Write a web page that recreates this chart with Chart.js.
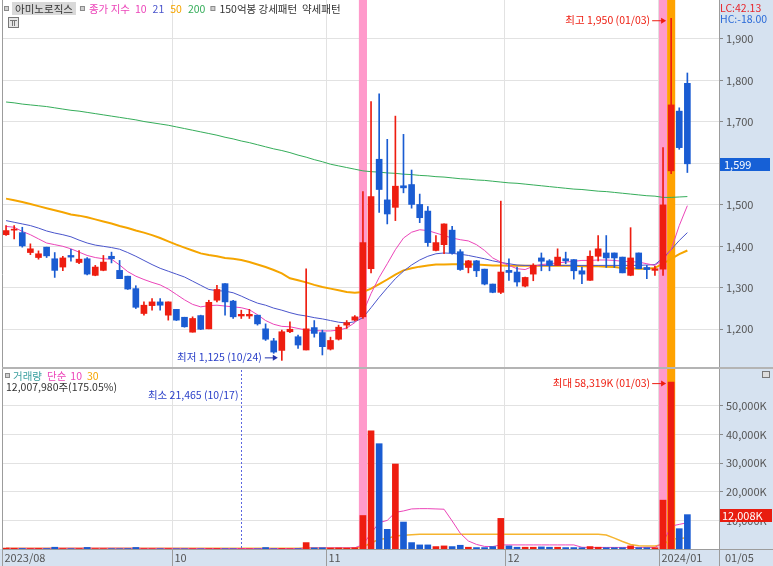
<!DOCTYPE html>
<html>
<head>
<meta charset="utf-8">
<script src="https://cdn.jsdelivr.net/npm/chart.js@4/dist/chart.umd.min.js"></script>
<style>
html, body { margin: 0; padding: 0; background: #fff; }
#wrap { width: 773px; height: 566px; }
</style>
</head>
<body>
<div id="wrap"><canvas id="c" width="773" height="566"></canvas></div>
<script>
// trading days shown (2023/08/30 .. 2024/01/05)
const dates = ['08/30','08/31',
  '09/01','09/04','09/05','09/06','09/07','09/08','09/11','09/12','09/13','09/14','09/15','09/18','09/19','09/20','09/21','09/22','09/25','09/26','09/27',
  '10/04','10/05','10/06','10/10','10/11','10/12','10/13','10/16','10/17','10/18','10/19','10/20','10/23','10/24','10/25','10/26','10/27','10/30','10/31',
  '11/01','11/02','11/03','11/06','11/07','11/08','11/09','11/10','11/13','11/14','11/15','11/16','11/17','11/20','11/21','11/22','11/23','11/24','11/27','11/28','11/29','11/30',
  '12/01','12/04','12/05','12/06','12/07','12/08','12/11','12/12','12/13','12/14','12/15','12/18','12/19','12/20','12/21','12/22','12/26','12/27','12/28',
  '01/02','01/03','01/04','01/05'];

const opens = [1428,1439,1433,1385,1373,1398,1370,1350,1378,1361, 1370,1330,1342,1376,1342,1328,1298,1238,1257,1266,
  1234,1248,1229,1193,1233,1201,1270,1310,1268,1232, 1232,1234,1201,1172,1149,1194,1182,1150,1204,1192,
  1152,1176,1210,1222,1230,1346,1610,1512,1494,1546, 1549,1501,1485,1390,1404,1439,1387,1349,1365,1345,
  1309,1289,1342,1338,1304,1333,1372,1365,1354,1370, 1368,1341,1318,1376,1384,1384,1374,1330,1384,1349,
  1342,1345,1582,1726,1793];
const highs = [1450,1450,1446,1406,1389,1398,1385,1376,1393,1390, 1373,1354,1378,1386,1366,1328,1305,1266,1274,1274,
  1266,1248,1229,1230,1234,1270,1306,1310,1270,1246, 1248,1234,1213,1178,1198,1218,1186,1346,1221,1198,
  1181,1210,1221,1233,1532,1749,1768,1658,1714,1670, 1584,1526,1496,1426,1454,1448,1392,1366,1366,1345,
  1309,1509,1370,1350,1326,1358,1384,1368,1394,1386, 1368,1350,1389,1426,1426,1384,1374,1445,1384,1354,
  1352,1638,1950,1734,1818];
const lows = [1426,1418,1398,1380,1369,1373,1325,1341,1364,1358, 1331,1329,1341,1360,1322,1296,1250,1234,1246,1246,
  1222,1221,1205,1193,1199,1201,1266,1234,1226,1226, 1226,1210,1173,1142,1125,1192,1154,1150,1181,1138,
  1150,1174,1202,1220,1226,1336,1482,1454,1462,1529, 1492,1457,1400,1389,1382,1381,1342,1336,1327,1307,
  1288,1286,1318,1304,1302,1317,1341,1341,1354,1358, 1321,1310,1318,1365,1349,1349,1336,1329,1346,1322,
  1330,1330,1575,1634,1578];
const closes = [1438,1440,1401,1394,1382,1377,1342,1372,1374,1369, 1333,1350,1362,1370,1322,1297,1253,1258,1266,1258,
  1266,1222,1206,1226,1200,1265,1296,1266,1230,1236, 1236,1213,1176,1145,1194,1200,1162,1201,1190,1158,
  1173,1205,1216,1230,1409,1520,1537,1478,1545,1541, 1501,1469,1409,1409,1454,1384,1344,1365,1341,1309,
  1289,1338,1337,1314,1325,1354,1364,1354,1374,1365, 1341,1333,1376,1394,1372,1372,1336,1372,1346,1344,
  1346,1500,1741,1638,1599];

// price moving averages
const ma10 = [1448,1446,1436,1428,1418,1408,1404,1400,1394,1386, 1378,1373,1370,1369,1355,1339,1328,1320,1313,1307,
  1297,1284,1271,1260,1254,1257,1258,1256,1254,1252, 1247,1235,1221,1212,1207,1206,1202,1198,1197,1196,
  1196,1198,1203,1216,1240,1286,1325,1358,1392,1420, 1434,1440,1438,1432,1426,1420,1416,1413,1404,1390,
  1372,1362,1354,1346,1344,1352,1356,1358,1360,1362, 1364,1366,1366,1367,1367,1366,1364,1363,1362,1358,
  1354,1368,1392,1450,1498];
const ma21 = [1462,1458,1454,1450,1444,1437,1432,1428,1423,1415, 1408,1403,1400,1397,1393,1385,1376,1366,1356,1347,
  1340,1333,1326,1316,1306,1296,1293,1292,1288,1280, 1271,1263,1258,1251,1246,1240,1235,1232,1228,1225,
  1221,1217,1215,1218,1228,1252,1277,1300,1322,1340, 1355,1367,1376,1382,1384,1383,1381,1378,1374,1370,
  1365,1361,1358,1355,1354,1354,1354,1354,1354,1354, 1354,1354,1354,1354,1354,1354,1354,1354,1354,1355,
  1356,1372,1392,1414,1433];
const ma50 = [1515,1511,1507,1502,1497,1492,1487,1482,1477,1474, 1470,1465,1460,1455,1449,1444,1438,1433,1427,1420,
  1412,1404,1397,1390,1383,1379,1376,1372,1370,1367, 1362,1356,1350,1343,1335,1323,1318,1313,1307,1302,
  1298,1294,1290,1288,1290,1298,1309,1320,1332,1342, 1347,1351,1354,1356,1356,1357,1357,1357,1356,1355,
  1354,1354,1353,1353,1353,1353,1353,1353,1353,1353, 1353,1352,1352,1352,1351,1350,1348,1347,1346,1346,
  1348,1358,1370,1381,1390];
const ma200 = [1748,1746,1743,1741,1739,1737,1734,1731,1728,1726, 1723,1720,1717,1714,1711,1708,1705,1701,1698,1695,
  1692,1688,1684,1680,1676,1672,1668,1663,1659,1654, 1650,1645,1640,1635,1631,1626,1620,1615,1609,1604,
  1598,1594,1590,1586,1582,1580,1579,1577,1576,1574, 1573,1571,1570,1568,1567,1565,1563,1562,1560,1559,
  1557,1555,1553,1552,1550,1548,1546,1544,1542,1540, 1538,1537,1535,1533,1532,1530,1528,1526,1524,1522,
  1521,1518,1518,1519,1520];

// volume in thousand shares
const volumes = [320,250,180,150,200,160,620,150,120,140, 560,130,110,120,100,150,540,120,90,100,
  130,80,70,90,60,110,150,90,70,21.465, 40,60,520,90,160,70,120,2240,380,420,
  320,360,300,420,11700,41300,36800,6870,29700,9420, 2240,1430,1430,850,1080,850,1310,620,500,500,
  850,10696,1080,620,620,620,730,620,620,500, 500,450,850,620,450,450,450,1080,450,450,
  450,17070,58319,7100,12008];
const vma10 = [260,260,255,250,250,245,280,280,275,270, 300,295,290,285,280,270,260,250,250,245,
  240,230,220,210,200,195,190,185,180,170, 165,160,175,170,165,160,150,350,370,390,
  400,410,420,430,1500,5500,9200,10000,12800,13300, 14000,14100,14100,14000,13900,9800,5500,2800,1600,900,
  850,1430,1430,1430,1430,1430,1430,1430,1430,1430, 1430,600,550,550,550,550,550,560,560,560,
  560,2200,8000,8600,9200];
const vma30 = [300,300,300,300,300,300,300,300,300,300, 300,300,300,300,300,300,300,300,300,300,
  290,290,290,290,290,290,290,290,290,280, 280,280,280,280,280,280,280,330,330,340,
  340,340,340,340,700,2100,3400,3700,4550,4800, 5000,5130,5130,5130,5130,5130,5130,5130,5130,5130,
  5130,5130,5130,5130,5130,5130,5130,5130,5130,5130, 5130,5130,5130,5130,4900,3800,2600,1600,1100,1060,
  1060,1600,3400,3700,3970];

const priceTicks = [1200, 1300, 1400, 1500, 1600, 1700, 1800, 1900];
const volTicks = [10000, 20000, 30000, 40000, 50000];
const monthTicks = [-0.5, 20.5, 39.5, 61.5, 80.5];
const monthLabels = ['2023/08', '10', '11', '12', '2024/01'];
const pinkBands = [44, 81];
const orangeBands = [82];
const volInfo = '12,007,980주(175.05%)';
const lcText = 'LC:42.13';
const hcText = 'HC:-18.00';

const FONT = "'Noto Sans CJK KR','Noto Sans',sans-serif";
const RED = '#ee1d10', BLUE = '#1a5cd2', PANEL = '#d6e2f0';
const C10 = '#ec45b9', C21 = '#4a55cc', C50 = '#f5a500', C200 = '#35ad5a';

Chart.defaults.font.family = FONT;
Chart.defaults.font.size = 11;
Chart.defaults.color = '#555';

const isUp = i => closes[i] >= opens[i];
const barColor = c => isUp(c.dataIndex) ? RED : BLUE;
const pts = arr => arr.map((v, i) => ({ x: i, y: v }));

function maLine(arr, color, width, axis) {
  return { type: 'line', yAxisID: axis, data: pts(arr), borderColor: color, borderWidth: width,
    pointRadius: 0, fill: false, tension: 0, order: 2 };
}

function txt(ctx, s, x, y, color, align, size) {
  ctx.font = (size || 10.5) + 'px ' + FONT;
  ctx.fillStyle = color;
  ctx.textAlign = align || 'left';
  ctx.textBaseline = 'middle';
  ctx.fillText(s, x, y);
  return ctx.measureText(s).width;
}

function arrow(ctx, x0, x1, y, color) {
  ctx.strokeStyle = color; ctx.fillStyle = color; ctx.lineWidth = 1;
  ctx.beginPath(); ctx.moveTo(x0, y + 0.5); ctx.lineTo(x1 - 4, y + 0.5); ctx.stroke();
  ctx.beginPath(); ctx.moveTo(x1, y + 0.5); ctx.lineTo(x1 - 5, y - 2.5); ctx.lineTo(x1 - 5, y + 3.5);
  ctx.closePath(); ctx.fill();
}

function square(ctx, x, y) {
  ctx.fillStyle = '#8a8a8a'; ctx.fillRect(x, y, 5, 5);
  ctx.fillStyle = '#cfcfcf'; ctx.fillRect(x + 1, y + 1, 3, 3);
}

// no label padding: panes must fill the whole plot height
const noPad = s => { s.paddingTop = 0; s.paddingBottom = 0; s.paddingLeft = 0; s.paddingRight = 0; };

const deco = {
  id: 'deco',
  beforeDraw(chart) {
    const { ctx, chartArea: a, width: W, height: H } = chart;
    ctx.save();
    ctx.fillStyle = '#fff'; ctx.fillRect(0, 0, W, H);
    ctx.fillStyle = PANEL;
    ctx.fillRect(a.right, 0, W - a.right, H);
    ctx.fillRect(0, a.bottom, W, H - a.bottom);
    ctx.restore();
  },
  beforeDatasetsDraw(chart) {
    const { ctx, chartArea: a, scales: { x } } = chart;
    ctx.save();
    const band = (k, col) => {
      const l = x.getPixelForValue(k - 0.5), r = x.getPixelForValue(k + 0.5);
      ctx.fillStyle = col; ctx.fillRect(l, a.top, r - l, a.bottom - a.top);
    };
    pinkBands.forEach(k => band(k, '#ff9acb'));
    orangeBands.forEach(k => band(k, '#ffa200'));
    ctx.restore();
  },
  afterDraw(chart) {
    const { ctx, chartArea: a, width: W, height: H, scales: { x, y, yv } } = chart;
    ctx.save();

    // frame + pane separator
    ctx.strokeStyle = '#9c9c9c'; ctx.lineWidth = 1;
    ctx.beginPath();
    ctx.moveTo(a.left + 0.5, a.top); ctx.lineTo(a.left + 0.5, a.bottom);
    ctx.moveTo(a.right + 0.5, a.top); ctx.lineTo(a.right + 0.5, H);
    ctx.moveTo(a.left, a.bottom + 0.5); ctx.lineTo(W, a.bottom + 0.5);
    ctx.stroke();
    ctx.strokeStyle = '#b4b4b4'; ctx.lineWidth = 2;
    ctx.beginPath(); ctx.moveTo(a.left, y.bottom + 1); ctx.lineTo(W, y.bottom + 1); ctx.stroke();

    // date axis
    ctx.strokeStyle = '#9c9c9c'; ctx.lineWidth = 1;
    monthTicks.forEach((v, i) => {
      const px = Math.round(x.getPixelForValue(v)) + 0.5;
      ctx.beginPath(); ctx.moveTo(px, a.bottom); ctx.lineTo(px, H); ctx.stroke();
      txt(ctx, monthLabels[i], px + 2, a.bottom + 9, '#555', 'left', 11);
    });
    txt(ctx, dates[dates.length - 1], a.right + 6, a.bottom + 9, '#555', 'left', 11);

    // price pane legend
    square(ctx, 4, 6);
    ctx.font = '10.5px ' + FONT;
    const nameW = ctx.measureText('아미노로직스').width;
    ctx.fillStyle = '#d9d9d9'; ctx.fillRect(12, 2, nameW + 6, 13);
    txt(ctx, '아미노로직스', 15, 9, '#333');
    let lx = 18 + nameW + 4;
    square(ctx, lx, 6); lx += 9;
    lx += txt(ctx, '종가 지수', lx, 9, C10) + 5;
    lx += txt(ctx, '10', lx, 9, C10) + 6;
    lx += txt(ctx, '21', lx, 9, C21) + 6;
    lx += txt(ctx, '50', lx, 9, C50) + 6;
    lx += txt(ctx, '200', lx, 9, C200) + 5;
    square(ctx, lx, 6); lx += 9;
    txt(ctx, '150억봉 강세패턴  약세패턴', lx, 9, '#333');
    // small grid button
    ctx.fillStyle = '#e6e6e6'; ctx.fillRect(8, 17, 11, 11);
    ctx.strokeStyle = '#777'; ctx.strokeRect(8.5, 17.5, 10, 10);
    ctx.beginPath(); ctx.moveTo(10, 20.5); ctx.lineTo(17, 20.5);
    ctx.moveTo(12.5, 20); ctx.lineTo(12.5, 26); ctx.moveTo(14.5, 20); ctx.lineTo(14.5, 26); ctx.stroke();

    // volume pane legend
    const vt = yv.top;
    square(ctx, 5, vt + 6);
    let vx = 13;
    vx += txt(ctx, '거래량', vx, vt + 9, '#3a9e9e') + 5;
    vx += txt(ctx, '단순', vx, vt + 9, C10) + 4;
    vx += txt(ctx, '10', vx, vt + 9, C10) + 5;
    txt(ctx, '30', vx, vt + 9, C50);
    txt(ctx, volInfo, 6, vt + 20, '#333');
    ctx.fillStyle = '#777'; ctx.fillRect(W - 11, vt + 4, 8, 7);
    ctx.fillStyle = '#ddd'; ctx.fillRect(W - 10, vt + 5, 6, 5);

    // highest / lowest price marks
    const hiIdx = highs.indexOf(Math.max(...highs));
    const loIdx = lows.indexOf(Math.min(...lows));
    let px = x.getPixelForValue(hiIdx), py = y.getPixelForValue(highs[hiIdx]) + 2;
    arrow(ctx, px - 19, px - 5, py, RED);
    txt(ctx, '최고 ' + highs[hiIdx].toLocaleString('en-US') + ' (' + dates[hiIdx] + ')', px - 21, py, RED, 'right');
    px = x.getPixelForValue(loIdx); py = y.getPixelForValue(lows[loIdx]) - 3;
    arrow(ctx, px - 17, px - 4, py, '#2233aa');
    txt(ctx, '최저 ' + lows[loIdx].toLocaleString('en-US') + ' (' + dates[loIdx] + ')', px - 20, py, '#2a3fc8', 'right');

    // smallest / largest volume marks
    const vMin = volumes.indexOf(Math.min(...volumes));
    const vMax = volumes.indexOf(Math.max(...volumes));
    px = Math.round(x.getPixelForValue(vMin)) + 0.5;
    ctx.strokeStyle = '#5b66e0'; ctx.setLineDash([2, 2]);
    ctx.beginPath(); ctx.moveTo(px, vt + 3); ctx.lineTo(px, a.bottom); ctx.stroke();
    ctx.setLineDash([]);
    txt(ctx, '최소 ' + Math.round(volumes[vMin] * 1000).toLocaleString('en-US') + ' (' + dates[vMin] + ')', px - 3, vt + 28, '#2a3fc8', 'right');
    px = x.getPixelForValue(vMax); py = yv.getPixelForValue(volumes[vMax]) + 1;
    arrow(ctx, px - 19, px - 5, py, RED);
    txt(ctx, '최대 ' + volumes[vMax].toLocaleString('en-US') + 'K (' + dates[vMax] + ')', px - 21, py, RED, 'right');

    // current value tags on the axes
    const last = closes.length - 1;
    py = Math.round(y.getPixelForValue(closes[last]));
    ctx.fillStyle = '#1660d6'; ctx.fillRect(a.right + 1, py - 6, 50, 13);
    txt(ctx, closes[last].toLocaleString('en-US'), a.right + 5, py + 0.5, '#fff', 'left', 11);
    py = Math.round(yv.getPixelForValue(volumes[last]));
    ctx.fillStyle = '#e81d10'; ctx.fillRect(a.right + 1, py - 6, 52, 13);
    txt(ctx, volumes[last].toLocaleString('en-US') + 'K', a.right + 3, py + 0.5, '#fff', 'left', 11);

    txt(ctx, lcText, a.right + 1, 8, '#e8242a', 'left', 10.5);
    txt(ctx, hcText, a.right + 1, 19, '#2a6ad8', 'left', 10.5);
    ctx.restore();
  }
};

new Chart(document.getElementById('c'), {
  type: 'bar',
  data: {
    datasets: [
      { type: 'bar', yAxisID: 'y', data: dates.map((d, i) => ({ x: i, y: [opens[i], closes[i]] })),
        backgroundColor: barColor, barThickness: 6, minBarLength: 1, grouped: false, order: 0 },
      { type: 'bar', yAxisID: 'y', data: dates.map((d, i) => ({ x: i, y: [lows[i], highs[i]] })),
        backgroundColor: barColor, barThickness: 1, grouped: false, order: 1 },
      maLine(ma10, C10, 1, 'y'),
      maLine(ma21, C21, 1, 'y'),
      maLine(ma50, C50, 2, 'y'),
      maLine(ma200, C200, 1, 'y'),
      { type: 'bar', yAxisID: 'yv', data: pts(volumes), backgroundColor: barColor,
        barThickness: 6, grouped: false, order: 0 },
      maLine(vma10, C10, 1, 'yv'),
      maLine(vma30, '#f5b530', 1.5, 'yv')
    ]
  },
  options: {
    responsive: false,
    animation: false,
    devicePixelRatio: 1,
    layout: { padding: { left: 2, right: 0, top: 0, bottom: 0 } },
    plugins: { legend: { display: false }, tooltip: { enabled: false } },
    scales: {
      x: {
        type: 'linear', position: 'bottom', min: -0.5, max: 87.9, offset: false,
        afterBuildTicks: s => { s.ticks = monthTicks.slice(1).map(v => ({ value: v })); },
        afterFit: s => { s.height = 17; noPad(s); },
        ticks: { display: false },
        grid: { color: '#e2e2e2', drawTicks: false, offset: false },
        border: { display: false }
      },
      y: {
        type: 'linear', position: 'right', stack: 'pane', stackWeight: 367,
        min: 1109, max: 1994,
        afterBuildTicks: s => { s.ticks = priceTicks.map(v => ({ value: v })); },
        afterFit: s => { s.width = 54; noPad(s); },
        ticks: { callback: v => v.toLocaleString('en-US'), font: { size: 11 }, color: '#555', padding: 3 },
        grid: { color: '#e2e2e2', tickLength: 4, tickColor: '#888' },
        border: { color: '#9c9c9c' }
      },
      yv: {
        type: 'linear', position: 'right', stack: 'pane', stackWeight: 182,
        min: 0, max: 63600,
        afterBuildTicks: s => { s.ticks = volTicks.map(v => ({ value: v })); },
        afterFit: s => { s.width = 54; noPad(s); },
        ticks: { callback: v => v.toLocaleString('en-US') + 'K', font: { size: 11 }, color: '#555', padding: 3 },
        grid: { color: '#e2e2e2', tickLength: 4, tickColor: '#888' },
        border: { color: '#9c9c9c' }
      }
    }
  },
  plugins: [deco]
});
</script>
</body>
</html>
